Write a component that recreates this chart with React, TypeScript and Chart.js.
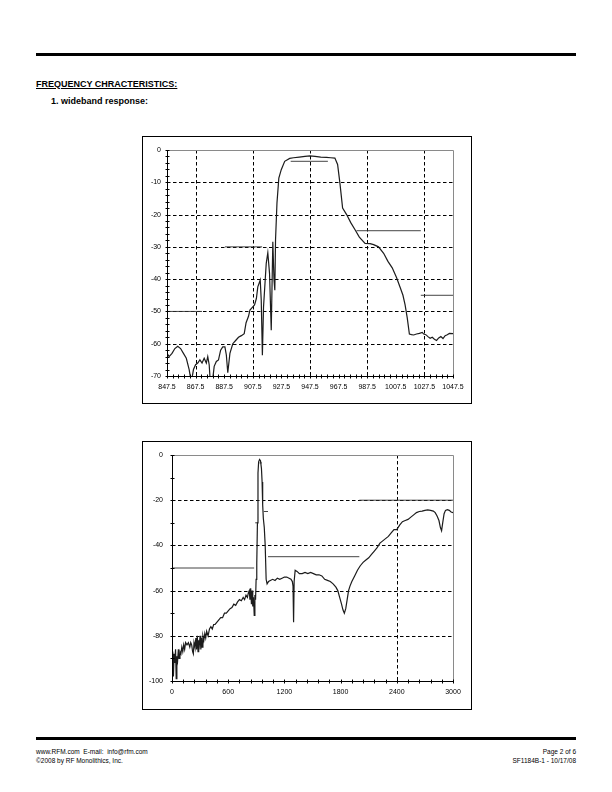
import React, { useEffect, useRef } from "react";
import { Chart, registerables } from "chart.js";

Chart.register(...registerables);

const FONT = "'Liberation Sans', Arial, Helvetica, sans-serif";

// ---------- Chart 1: wideband response (narrow span) ----------
const wbFreq = [
  847.5, 849, 851, 853, 855, 857, 859, 861, 863, 864.5,
  866, 867.5, 869, 870.5, 872, 873.5, 875, 876, 877, 877.8,
  879.2, 880.5, 882, 883.5, 885, 886.5, 888, 889, 890, 891.5,
  893.5, 895.5, 897.5, 899.5, 901.5, 902.8, 904.5, 905.5, 907.5, 908.7,
  910, 911, 912.7, 913.4, 914.2, 915, 916.9, 918, 919.2, 920.4,
  921.5, 922.3, 922.9, 923.4, 924.4, 925.7, 927.4, 929.8, 933.3, 936,
  940, 944, 947.5, 951, 955, 959, 962, 964.9, 966.8, 968.4,
  970.3, 973.1, 976, 979, 982, 986, 989.5, 992, 995.4, 999,
  1002, 1005, 1008, 1010.5, 1012.5, 1014, 1015.5, 1017, 1018.5, 1020,
  1022, 1024, 1026, 1027, 1028.5, 1030, 1031.5, 1033, 1034.5, 1036,
  1037.5, 1039, 1040.5, 1042, 1043.5, 1045, 1047.5,
];
const wbLoss = [
  -63, -64, -63, -61.5, -60.8, -61.5, -63, -64.5, -68, -72,
  -68, -66.5, -66, -65, -66, -64.5, -66, -64, -66.5, -72,
  -72, -67, -65.5, -65, -62, -61, -61, -63.5, -69, -63,
  -60, -59, -58, -57.5, -56.9, -53.5, -51.5, -49.6, -48.6, -48,
  -46, -42.4, -40.3, -46.5, -63.6, -48.6, -35.1, -31.8, -38.2, -55.8,
  -28.4, -40, -43.4, -27.8, -16.4, -8.7, -6.1, -3.5, -2.6, -2.4,
  -2.2, -2.0, -1.8, -2.0, -2.2, -2.3, -2.4, -2.5, -4.5, -10.2,
  -18, -20, -22.5, -24.7, -27, -28.9, -29, -29.3, -30, -32,
  -34.5, -36.5, -39.5, -42.5, -45, -48, -52, -57, -57.2, -57.3,
  -57, -56.8, -56.5, -57, -57.2, -57.8, -58.3, -58, -58.6, -59,
  -58.2, -57.8, -58.4, -57.5, -57.2, -56.8, -56.9,
];
const wbXTicks = [847.5, 867.5, 887.5, 907.5, 927.5, 947.5, 967.5, 987.5, 1007.5, 1027.5, 1047.5];
const wbYTicks = [0, -10, -20, -30, -40, -50, -60, -70];
const wbGridX = [867.5, 907.5, 947.5, 987.5, 1027.5];
const wbGridY = [-10, -20, -30, -40, -50, -60];
const wbLimStart = [847.5, 888, 934, 980, 1025];
const wbLimEnd = [872, 914, 960, 1025, 1047.5];
const wbLimLevel = [-50, -30, -3.5, -25, -45];

// ---------- Chart 2: wideband response (0-3000 MHz) ----------
const fullFreq = [
  0, 8, 15, 22, 30, 38, 45, 52, 60, 68,
  75, 85, 95, 105, 115, 125, 135, 145, 160, 175,
  190, 200, 210, 220, 228, 235, 245, 255, 262, 270,
  278, 285, 292, 300, 308, 315, 322, 330, 340, 350,
  360, 370, 385, 400, 415, 430, 445, 460, 480, 500,
  520, 540, 560, 580, 600, 620, 640, 660, 680, 700,
  720, 740, 760, 775, 790, 805, 815, 825, 832, 840,
  848, 855, 862, 870, 878, 885, 892, 898, 905, 912,
  918, 925, 935, 945, 955, 962, 968, 975, 985, 995,
  1005, 1015, 1030, 1050, 1075, 1100, 1125, 1150, 1175, 1200,
  1225, 1250, 1270, 1285, 1292, 1298, 1304, 1315, 1335, 1360,
  1390, 1420, 1450, 1480, 1510, 1540, 1570, 1600, 1630, 1660,
  1690, 1720, 1750, 1770, 1790, 1810, 1825, 1840, 1855, 1870,
  1885, 1900, 1920, 1950, 1980, 2010, 2040, 2070, 2100, 2130,
  2160, 2190, 2220, 2250, 2280, 2310, 2340, 2370, 2400, 2430,
  2460, 2490, 2520, 2550, 2580, 2610, 2640, 2670, 2700, 2730,
  2760, 2790, 2810, 2830, 2850, 2865, 2878, 2890, 2905, 2920,
  2940, 2960, 2980, 3000,
];
const fullLoss = [
  -96, -87, -98, -88, -92, -86, -99, -89, -91, -86,
  -90, -87, -88, -85, -87, -84, -86, -83, -84, -83,
  -85, -83, -84, -87, -88, -83, -85, -81, -86, -80,
  -87, -82, -84, -80, -86, -81, -85, -80, -82, -79,
  -81, -78, -80, -77, -76, -77, -75, -75, -74, -73,
  -72, -72, -70, -70, -69, -68, -67.5, -66, -66.5, -65,
  -64, -64.5, -63, -64, -62, -63, -61, -60, -64, -59,
  -66, -60, -67, -63, -71, -62, -64, -55, -48, -30,
  -8, -3, -2, -2.5, -6, -12, -22, -28, -32, -40,
  -55, -57, -56, -55.5, -55, -55.5, -54.5, -55, -54.5, -54,
  -54, -54.5, -55, -56, -58, -74, -56, -51, -51.5, -52.5,
  -52.5, -52, -52.5, -52, -52.5, -53, -53, -53.5, -55, -55.5,
  -56, -57, -58.5, -60, -63, -66, -68.5, -70, -68, -64,
  -60, -58, -56, -53.5, -51, -49, -47.5, -46.5, -45.5, -44,
  -42.5, -41, -39, -38, -37, -36, -34.5, -33, -33, -31,
  -29.5, -29, -28.5, -27.5, -26.5, -25.5, -25, -24.8, -24.5, -24.3,
  -24.5, -24.8, -25.5, -27, -29, -32, -33.5, -30, -26, -24.5,
  -24.2, -24.5, -25.2, -25.5,
];
const fullXTicks = [0, 600, 1200, 1800, 2400, 3000];
const fullYTicks = [0, -20, -40, -60, -80, -100];
const fullGridX = [2400];
const fullGridY = [-20, -40, -60, -80];
const fullLimStart = [0, 888, 934, 980, 1025, 2000];
const fullLimEnd = [877, 914, 960, 1025, 2000, 3000];
const fullLimLevel = [-50, -30, -3.5, -25, -45, -20];

type Params = {
  freq: number[];
  loss: number[];
  xMin: number;
  xMax: number;
  yMin: number;
  yMax: number;
  xTicks: number[];
  yTicks: number[];
  gridX: number[];
  gridY: number[];
  limStart: number[];
  limEnd: number[];
  limLevel: number[];
  minorXStep: number;
  minorYStep: number;
  yAxisWidth: number;
  xAxisHeight: number;
  padTop: number;
  padRight: number;
  yLabelPad: number;
  xLabelPad: number;
};

const decor = {
  id: "decor",
  beforeDatasetsDraw(chart: any, _a: any, opts: any) {
    const { ctx, chartArea: a, scales } = chart;
    const x = scales.x;
    const y = scales.y;
    ctx.save();
    ctx.lineWidth = 1;
    ctx.strokeStyle = "#000";
    ctx.setLineDash([3.5, 2.5]);
    for (const v of opts.gridX) {
      const px = Math.round(x.getPixelForValue(v)) + 0.5;
      ctx.beginPath();
      ctx.moveTo(px, a.top);
      ctx.lineTo(px, a.bottom);
      ctx.stroke();
    }
    for (const v of opts.gridY) {
      const py = Math.round(y.getPixelForValue(v)) + 0.5;
      ctx.beginPath();
      ctx.moveTo(a.left, py);
      ctx.lineTo(a.right, py);
      ctx.stroke();
    }
    ctx.setLineDash([]);
    ctx.strokeStyle = "#8a8a8a";
    const t = Math.round(a.top) + 0.5;
    const r = Math.round(a.right) + 0.5;
    ctx.beginPath();
    ctx.moveTo(a.left, t);
    ctx.lineTo(r, t);
    ctx.lineTo(r, a.bottom);
    ctx.stroke();
    ctx.restore();
  },
  afterDatasetsDraw(chart: any, _a: any, opts: any) {
    const { ctx, chartArea: a, scales } = chart;
    const x = scales.x;
    const y = scales.y;
    ctx.save();
    ctx.lineWidth = 1;
    ctx.strokeStyle = "#000";
    const l = Math.round(a.left) + 0.5;
    const b = Math.round(a.bottom) + 0.5;
    ctx.beginPath();
    ctx.moveTo(l, a.top);
    ctx.lineTo(l, b);
    ctx.lineTo(a.right, b);
    ctx.stroke();
    // minor ticks crossing the axes
    for (let v = x.min; v <= x.max + 1e-6; v += opts.minorXStep) {
      const px = Math.round(x.getPixelForValue(v)) + 0.5;
      ctx.beginPath();
      ctx.moveTo(px, b - 2);
      ctx.lineTo(px, b + 2);
      ctx.stroke();
    }
    for (let v = y.min; v <= y.max + 1e-6; v += opts.minorYStep) {
      const py = Math.round(y.getPixelForValue(v)) + 0.5;
      ctx.beginPath();
      ctx.moveTo(l - 2, py);
      ctx.lineTo(l + 2, py);
      ctx.stroke();
    }
    ctx.restore();
  },
};

function makeChart(canvas: HTMLCanvasElement, p: Params) {
  const main = p.freq.map((f, i) => ({ x: f, y: p.loss[i] }));
  const limits = p.limStart.map((s, i) => ({
    data: [
      { x: s, y: p.limLevel[i] },
      { x: p.limEnd[i], y: p.limLevel[i] },
    ],
    borderColor: "#303030",
    borderWidth: 0.9,
    pointRadius: 0,
    fill: false,
    tension: 0,
  }));
  const tickFont = { family: FONT, size: 7 };
  return new Chart(canvas, {
    type: "line",
    data: {
      datasets: [
        {
          data: main,
          borderColor: "#1c1c1c",
          borderWidth: 1.2,
          pointRadius: 0,
          fill: false,
          tension: 0,
        },
        ...limits,
      ],
    },
    plugins: [decor],
    options: {
      responsive: false,
      animation: false,
      devicePixelRatio: 1,
      layout: { padding: { left: 0, top: p.padTop, right: p.padRight, bottom: 0 } },
      plugins: {
        legend: { display: false },
        tooltip: { enabled: false },
        decor: {
          gridX: p.gridX,
          gridY: p.gridY,
          minorXStep: p.minorXStep,
          minorYStep: p.minorYStep,
        },
      } as any,
      scales: {
        x: {
          type: "linear",
          min: p.xMin,
          max: p.xMax,
          afterBuildTicks: (s: any) => {
            s.ticks = p.xTicks.map((v) => ({ value: v }));
          },
          afterFit: (s: any) => {
            s.height = p.xAxisHeight;
          },
          grid: { display: false, drawTicks: false },
          border: { display: false },
          ticks: {
            padding: p.xLabelPad,
            font: tickFont,
            color: "#000",
            autoSkip: false,
            maxRotation: 0,
            callback: (v: any) => String(v),
          },
        },
        y: {
          type: "linear",
          min: p.yMin,
          max: p.yMax,
          afterBuildTicks: (s: any) => {
            s.ticks = p.yTicks.map((v) => ({ value: v }));
          },
          afterFit: (s: any) => {
            s.width = p.yAxisWidth;
          },
          grid: { display: false, drawTicks: false },
          border: { display: false },
          ticks: {
            padding: p.yLabelPad,
            font: tickFont,
            color: "#000",
            autoSkip: false,
            callback: (v: any) => String(v),
          },
        },
      },
    } as any,
  });
}

function ChartBox(props: { left: number; top: number; width: number; height: number; params: Params }) {
  const ref = useRef<HTMLCanvasElement>(null);
  const { left, top, width, height, params } = props;
  useEffect(() => {
    const chart = makeChart(ref.current as HTMLCanvasElement, params);
    return () => chart.destroy();
  }, []);
  return (
    <>
      <canvas
        ref={ref}
        width={width}
        height={height}
        style={{ position: "absolute", left, top, width, height, display: "block" }}
      />
      <div
        style={{
          position: "absolute",
          left,
          top,
          width,
          height,
          border: "1px solid #000",
          boxSizing: "border-box",
          pointerEvents: "none",
        }}
      />
    </>
  );
}

const chart1: Params = {
  freq: wbFreq,
  loss: wbLoss,
  xMin: 847.5,
  xMax: 1047.5,
  yMin: -70,
  yMax: 0,
  xTicks: wbXTicks,
  yTicks: wbYTicks,
  gridX: wbGridX,
  gridY: wbGridY,
  limStart: wbLimStart,
  limEnd: wbLimEnd,
  limLevel: wbLimLevel,
  minorXStep: 4,
  minorYStep: 2,
  yAxisWidth: 25,
  xAxisHeight: 28,
  padTop: 14,
  padRight: 19,
  yLabelPad: 6,
  xLabelPad: 7,
};

const chart2: Params = {
  freq: fullFreq,
  loss: fullLoss,
  xMin: 0,
  xMax: 3000,
  yMin: -100,
  yMax: 0,
  xTicks: fullXTicks,
  yTicks: fullYTicks,
  gridX: fullGridX,
  gridY: fullGridY,
  limStart: fullLimStart,
  limEnd: fullLimEnd,
  limLevel: fullLimLevel,
  minorXStep: 120,
  minorYStep: 10,
  yAxisWidth: 30,
  xAxisHeight: 29,
  padTop: 14,
  padRight: 19,
  yLabelPad: 9,
  xLabelPad: 7,
};

const txt = (extra: React.CSSProperties): React.CSSProperties => ({
  position: "absolute",
  fontFamily: FONT,
  color: "#000",
  whiteSpace: "nowrap",
  ...extra,
});

export default function App() {
  return (
    <div style={{ position: "absolute", left: 0, top: 0, width: 612, height: 792, background: "#fff", overflow: "hidden" }}>
      <div style={{ position: "absolute", left: 36, top: 52.5, width: 540, height: 3.5, background: "#000" }} />
      <div style={txt({ left: 36, top: 79.5, fontSize: 9, lineHeight: "9px", fontWeight: "bold", textDecoration: "underline" })}>
        FREQUENCY CHRACTERISTICS:
      </div>
      <div style={txt({ left: 51, top: 97, fontSize: 9, lineHeight: "9px", fontWeight: "bold" })}>
        1. wideband response:
      </div>

      <ChartBox left={142} top={136} width={330} height={268} params={chart1} />
      <ChartBox left={142} top={441} width={330} height={269} params={chart2} />

      <div style={{ position: "absolute", left: 36, top: 737, width: 540, height: 3, background: "#000" }} />
      <div style={txt({ left: 36, top: 749, fontSize: 6.5, lineHeight: "6.5px" })}>
        www.RFM.com&nbsp; E-mail:&nbsp; info@rfm.com
      </div>
      <div style={txt({ left: 36, top: 757.5, fontSize: 6.5, lineHeight: "6.5px" })}>
        ©2008 by RF Monolithics, Inc.
      </div>
      <div style={txt({ right: 36, top: 749, fontSize: 6.5, lineHeight: "6.5px", textAlign: "right" })}>
        Page 2 of 6
      </div>
      <div style={txt({ right: 36, top: 757.5, fontSize: 6.5, lineHeight: "6.5px", textAlign: "right" })}>
        SF1184B-1 - 10/17/08
      </div>
    </div>
  );
}
